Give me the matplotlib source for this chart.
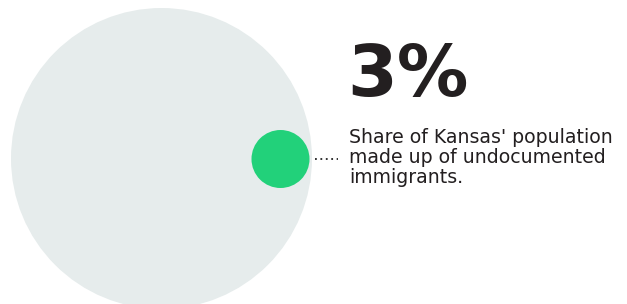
import matplotlib.pyplot as plt
from matplotlib.patches import Circle

# values
share_pct = 3
big_label = f"{share_pct}%"
desc_lines = ["Share of Kansas' population",
              "made up of undocumented",
              "immigrants."]

fig = plt.figure(figsize=(6.27, 3.04), dpi=100)
ax = fig.add_axes([0, 0, 1, 1])
ax.set_xlim(0, 627)
ax.set_ylim(304, 0)
ax.set_aspect('equal')
ax.axis('off')

# whole population circle
big_r = 150.5
ax.add_patch(Circle((161.5, 158.5), big_r, color='#e6ecec', lw=0))

# share circle, sitting at the right edge of the big one
small_r = 29
ax.add_patch(Circle((280.5, 159), small_r, color='#22d17a', lw=0))

# dotted leader line
ax.plot([315, 338], [159, 159], color='#222222', lw=1.3, ls=(0, (1, 2.0)))

ax.text(347, 96, big_label, fontsize=51.5, fontweight='bold', color='#231f20',
        family='DejaVu Sans', va='baseline', ha='left')

for i, line in enumerate(desc_lines):
    ax.text(349, 143 + i * 20, line, fontsize=13.6, color='#231f20',
            family='DejaVu Sans', va='baseline', ha='left')

plt.savefig('out.png', dpi=100)
